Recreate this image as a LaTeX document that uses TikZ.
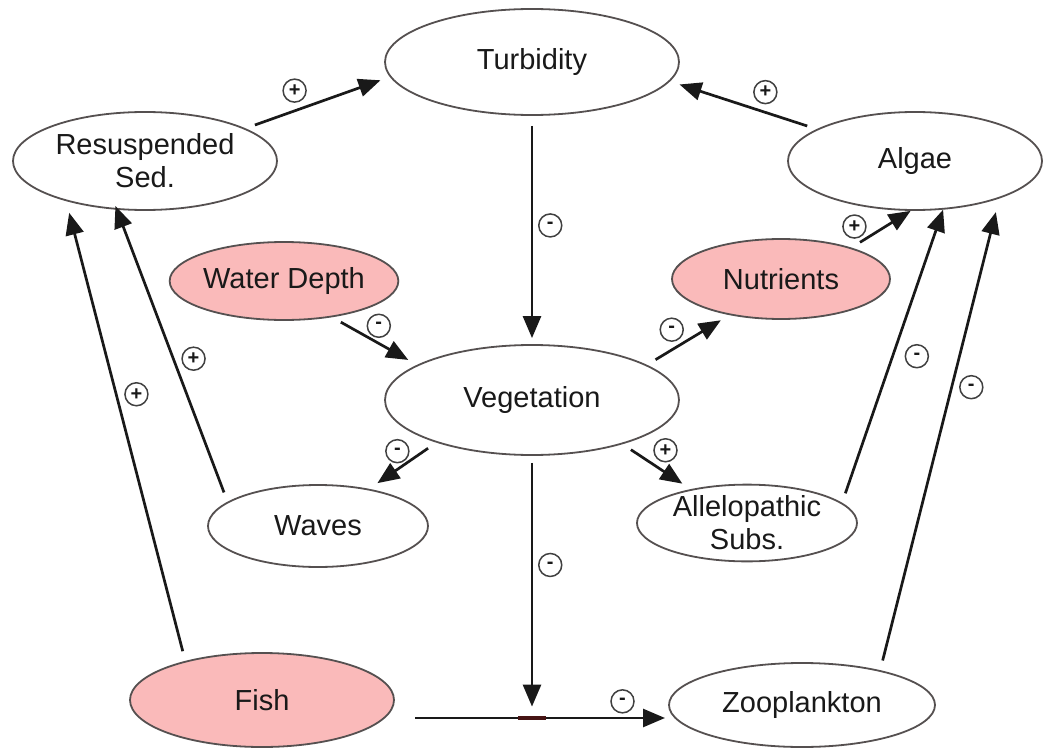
\documentclass[tikz,border=0pt]{standalone}
\usepackage{fontspec}
\setmainfont{Liberation Sans}
\usetikzlibrary{shapes.geometric,arrows.meta}
\definecolor{driverpink}{RGB}{250,186,186}
\definecolor{rimgray}{RGB}{85,80,80}
\definecolor{gatered}{RGB}{70,20,20}

\begin{document}
\begin{tikzpicture}[
  x=0.5pt, y=-0.5pt,
  factor/.style={ellipse, draw=rimgray, line width=0.9pt, fill=white, inner sep=0pt,
    text=black!90, align=center, font=\fontsize{14.5}{16.5}\selectfont},
  driver/.style={factor, fill=driverpink},
  link/.style={-{Triangle[length=11pt,width=9pt]}, line width=1.35pt, black!90,
    shorten <=5pt, shorten >=5pt},
  sign/.style={circle, draw=black!75, line width=0.75pt, fill=white, minimum size=11.5pt,
    inner sep=0pt, text=black!90, font=\fontsize{10}{10}\selectfont\bfseries},
  valve/.style={rectangle, fill=gatered, draw=none, minimum width=14pt, minimum height=2pt, inner sep=0pt}
]
\useasboundingbox (0,0) rectangle (1044,749);

% Nodes
\node[factor, minimum width=147pt, minimum height=53pt] (Turb) at (532,62) {Turbidity};
\node[factor, minimum width=132pt, minimum height=49pt] (Resus) at (145,161) {Resuspended\\Sed.};
\node[factor, minimum width=127pt, minimum height=49pt] (Algae) at (915,161) {Algae};
\node[driver, minimum width=110pt, minimum height=39pt] (Depth) at (284,281) {Water Depth};
\node[driver, minimum width=109pt, minimum height=40pt] (Nutr) at (781,279) {Nutrients};
\node[factor, minimum width=147pt, minimum height=55pt] (Veg) at (532,400) {Vegetation};
\node[factor, minimum width=110pt, minimum height=41pt] (Waves) at (318,526) {Waves};
\node[factor, minimum width=110pt, minimum height=36pt] (Allelo) at (747,523) {Allelopathic\\Subs.};
\node[driver, minimum width=132pt, minimum height=47pt] (Fish) at (262,700) {Fish};
\node[factor, minimum width=133pt, minimum height=42pt] (Zoo) at (802,705) {Zooplankton};

% Links with signs
\draw[link] (Resus.18) -- (Turb.186) node[sign, pos=0.34, above=4pt] {+};
\draw[link] (Algae.162) -- (Turb.352.5) node[sign, pos=0.35, above=4pt] {+};
\draw[link, shorten >=3pt] (Turb.south) -- (Veg.north) node[sign, pos=0.48, right=3pt] {-};

\draw[link] (Depth.323) -- (Veg.163) node[sign, pos=0.55, above=2.7pt] {-};
\draw[link] (Veg.17) -- (Nutr.215) node[sign, pos=0.3, above=4pt] {-};
\draw[link, shorten >=0pt] (Nutr.24) -- (Algae.265) node[sign, pos=0.05, above=3.5pt] {+};

\draw[link] (Veg.204) -- (Waves.36.5) node[sign, pos=0.58, above=3pt] {-};
\draw[link] (Veg.334.6) -- (Allelo.149) node[sign, pos=0.63, above=5pt] {+};

\draw[link, shorten >=-2pt] (Waves.165.8) -- (Resus.240) node[sign, pos=0.49, right=4pt] {+};
\draw[link, shorten >=6pt] (Fish.153) -- (Resus.207.5) node[sign, pos=0.58, right=4pt] {+};
\draw[link, shorten >=0pt] (Allelo.12) -- (Algae.300.5) node[sign, pos=0.5, right=6pt] {-};
\draw[link, shorten >=7pt] (Zoo.24) -- (Algae.336) node[sign, pos=0.6, right=3.7pt] {-};

% Fish to zooplankton flow, cut by vegetation
\coordinate (FishOut) at (415,718);
\coordinate (ZooIn) at (665,718);
\draw[link, shorten <=0pt, shorten >=0pt] (FishOut) -- (ZooIn) node[sign, pos=0.83, above=2.2pt] {-};
\node[valve] (Gate) at (FishOut -| Veg.south) {};
\draw[link, shorten <=3.5pt, shorten >=4.5pt] (Veg.south) -- (Gate) node[sign, pos=0.42, right=3pt] {-};

\end{tikzpicture}
\end{document}
